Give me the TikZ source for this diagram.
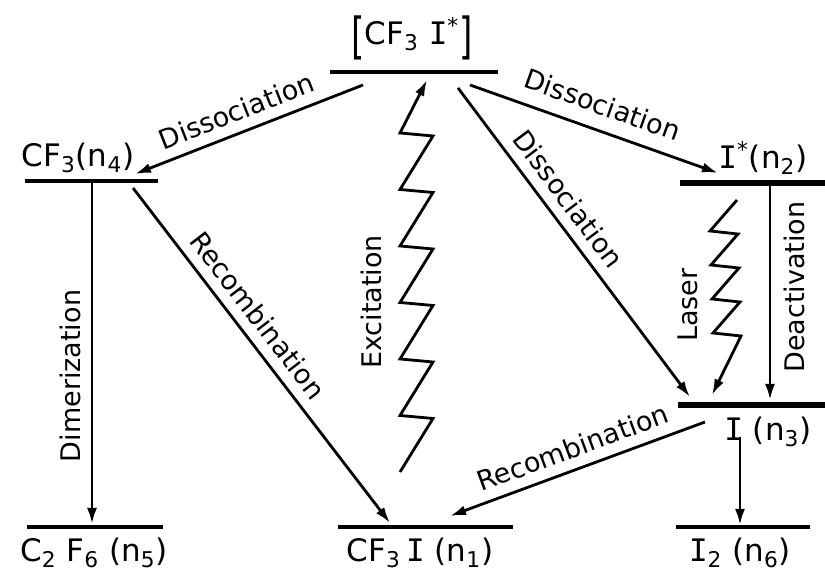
\documentclass[tikz,border=0pt]{standalone}
\usepackage{graphicx}
\usepackage{fontspec}
\setmainfont{DejaVu Sans}
\newfontfamily\monofam{DejaVu Sans Mono}
\usetikzlibrary{arrows.meta}

\newcommand{\Iod}{{\monofam I}}
\newcommand{\bigbr}[1]{\raisebox{-0.3em}{\scalebox{1.1}[1.6]{#1}}}

\begin{document}
\begin{tikzpicture}[x=0.5pt, y=-0.5pt,
    lvl/.style={line width=1.6pt},
    lvlthick/.style={line width=3.4pt},
    arr/.style={line width=1.4pt, -{Latex[length=8pt,width=5pt]}},
    zig/.style={line width=1.4pt, line join=miter, -{Latex[length=8pt,width=5pt]}},
    species/.style={font=\fontsize{15.5}{16}\selectfont, inner sep=1pt},
    lbl/.style={font=\fontsize{13.5}{14}\selectfont, inner sep=1pt}]
  \useasboundingbox (0,0) rectangle (825,576);

  % energy levels
  \coordinate (topL) at (330,72);   \coordinate (topR) at (498,72);
  \coordinate (nfourL) at (25,181); \coordinate (nfourR) at (158,181);
  \coordinate (ntwoL) at (680,183); \coordinate (ntwoR) at (825,183);
  \coordinate (nthreeL) at (678,405); \coordinate (nthreeR) at (825,405);
  \coordinate (nfiveL) at (27,527); \coordinate (nfiveR) at (163,527);
  \coordinate (noneL) at (338,527); \coordinate (noneR) at (513,527);
  \coordinate (nsixL) at (676,527); \coordinate (nsixR) at (810,527);
  \draw[lvl] (topL) -- (topR);
  \draw[lvl] (nfourL) -- (nfourR);
  \draw[lvlthick] (ntwoL) -- (ntwoR);
  \draw[lvlthick] (nthreeL) -- (nthreeR);
  \draw[lvl] (nfiveL) -- (nfiveR);
  \draw[lvl] (noneL) -- (noneR);
  \draw[lvl] (nsixL) -- (nsixR);

  % species
  \node[species] (top) at (412,38) {\bigbr{[}CF\textsubscript{3} \Iod\textsuperscript{*}\bigbr{]}};
  \node[species] (nfour) at (78,158) {CF\textsubscript{3}(n\textsubscript{4})};
  \node[species, anchor=west] (ntwo) at (716,158) {\Iod\textsuperscript{*}(n\textsubscript{2})};
  \node[species] (nthree) at (768,432) {\Iod{} (n\textsubscript{3})};
  \node[species] (nfive) at (94,553) {C\textsubscript{2} F\textsubscript{6} (n\textsubscript{5})};
  \node[species] (none) at (420,553) {CF\textsubscript{3}\,\Iod{} (n\textsubscript{1})};
  \node[species] (nsix) at (740,553) {\Iod\textsubscript{2} (n\textsubscript{6})};

  % processes
  \coordinate (dlA) at (363,85);  \coordinate (dlB) at (135,174);
  \coordinate (drA) at (470,85);  \coordinate (drB) at (718,173);
  \coordinate (ddA) at (458,88);  \coordinate (ddB) at (690,397);
  \coordinate (rlA) at (133,188); \coordinate (rlB) at (390,523);
  \coordinate (rrA) at (705,422); \coordinate (rrB) at (450,516);
  \coordinate (dmA) at (92,183);  \coordinate (dmB) at (92,524);
  \coordinate (deA) at (770,186); \coordinate (deB) at (770,400);
  \coordinate (isA) at (740,437); \coordinate (isB) at (740,525);
  \draw[arr] (dlA) -- node[lbl, sloped, above=4pt, pos=0.52] (dlLbl) {Dissociation} (dlB);
  \draw[arr] (drA) -- node[lbl, sloped, above=6pt, pos=0.5] (drLbl) {Dissociation} (drB);
  \draw[arr] (ddA) -- node[lbl, sloped, above=4pt, pos=0.40] (ddLbl) {Dissociation} (ddB);
  \draw[arr] (rlA) -- node[lbl, sloped, above=4pt, pos=0.42] (rlLbl) {Recombination} (rlB);
  \draw[arr] (rrA) -- node[lbl, sloped, above=4pt, pos=0.49] (rrLbl) {Recombination} (rrB);
  \draw[arr] (dmA) -- (dmB);
  \node[lbl, rotate=90] (dmLbl) at (70,376) {Dimerization};
  \draw[arr] (deA) -- (deB);
  \node[lbl, rotate=90] (deLbl) at (794,287) {Deactivation};
  \draw[arr] (isA) -- (isB);

  % zigzag arrows
  \coordinate (exA) at (400,472); \coordinate (exB) at (427,80);
  \draw[zig] (exA) \foreach \k in {1,...,6}{ -- ++(33,-53.5) -- ++(-33,-3)} -- (exB);
  \node[lbl, rotate=90] (exLbl) at (371,302) {Excitation};
  \coordinate (lzA) at (737,200); \coordinate (lzB) at (712,395);
  \draw[zig] (lzA) \foreach \k in {1,...,4}{ -- ++(-27,31) -- ++(28,3)} -- (lzB);
  \node[lbl, rotate=90] (lzLbl) at (688,305) {Laser};
\end{tikzpicture}
\end{document}
